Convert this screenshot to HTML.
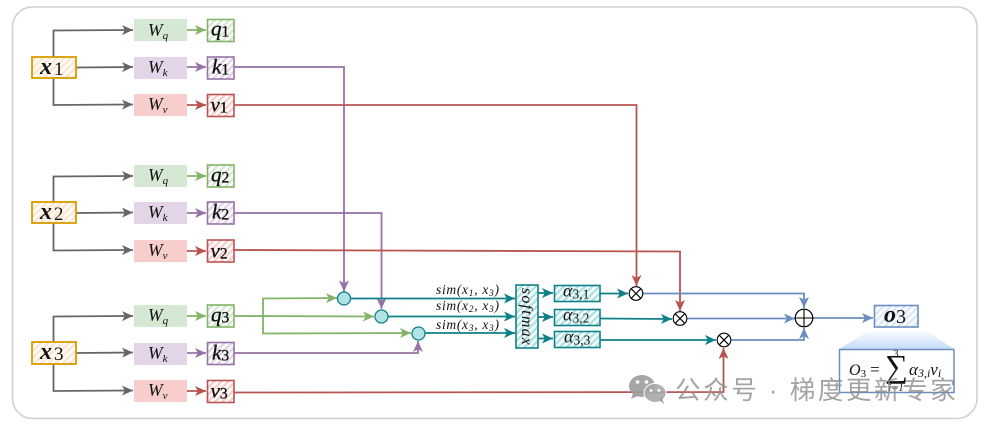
<!DOCTYPE html>
<html>
<head>
<meta charset="utf-8">
<style>
html,body{margin:0;padding:0;background:#fff}
svg{display:block}
text{font-family:"Liberation Serif",serif;font-style:italic;fill:#111}
.b{font-weight:bold}
.c{text-anchor:middle}
.l{fill:none;stroke-width:1.8}
.wm{font-family:"Liberation Sans","Noto Sans CJK SC",sans-serif;font-style:normal;font-size:25.5px;fill:#8c8c8c;fill-opacity:.8;letter-spacing:2.6px}
.n{font-style:normal;font-weight:normal}
.s{stroke:#111;stroke-width:.35}
</style>
</head>
<body>
<svg width="988" height="430" viewBox="0 0 988 430" xmlns="http://www.w3.org/2000/svg">
<defs>
<pattern id="ho" width="5" height="5" patternUnits="userSpaceOnUse" patternTransform="rotate(-45)"><rect width="5" height="5" fill="#fff"/><rect width="5" height="2.6" fill="#ffe6cc"/></pattern>
<pattern id="hg" width="5" height="5" patternUnits="userSpaceOnUse" patternTransform="rotate(-45)"><rect width="5" height="5" fill="#fff"/><rect width="5" height="2.4" fill="#d5e8d4"/></pattern>
<pattern id="hp" width="5" height="5" patternUnits="userSpaceOnUse" patternTransform="rotate(-45)"><rect width="5" height="5" fill="#fff"/><rect width="5" height="2.4" fill="#e1d5e7"/></pattern>
<pattern id="hr" width="5" height="5" patternUnits="userSpaceOnUse" patternTransform="rotate(-45)"><rect width="5" height="5" fill="#fff"/><rect width="5" height="2.4" fill="#f8cecc"/></pattern>
<pattern id="ht" width="5" height="5" patternUnits="userSpaceOnUse" patternTransform="rotate(-45)"><rect width="5" height="5" fill="#fff"/><rect width="5" height="2.6" fill="#b0e3e6"/></pattern>
<pattern id="hb" width="5" height="5" patternUnits="userSpaceOnUse" patternTransform="rotate(-45)"><rect width="5" height="5" fill="#fff"/><rect width="5" height="2.6" fill="#dae8fc"/></pattern>
<linearGradient id="fade" x1="0" y1="0" x2="0" y2="1"><stop offset="0" stop-color="#fff"/><stop offset="1" stop-color="#c4dcf8"/></linearGradient>
<marker id="ag" markerUnits="userSpaceOnUse" markerWidth="13" markerHeight="12" refX="11" refY="5" orient="auto"><path d="M0 0L11 5L0 10L2.800 5Z" fill="#666"/></marker>
<marker id="agr" markerUnits="userSpaceOnUse" markerWidth="13" markerHeight="12" refX="11" refY="5" orient="auto"><path d="M0 0L11 5L0 10L2.800 5Z" fill="#82b366"/></marker>
<marker id="ap" markerUnits="userSpaceOnUse" markerWidth="13" markerHeight="12" refX="11" refY="5" orient="auto"><path d="M0 0L11 5L0 10L2.800 5Z" fill="#9673a6"/></marker>
<marker id="ar" markerUnits="userSpaceOnUse" markerWidth="13" markerHeight="12" refX="11" refY="5" orient="auto"><path d="M0 0L11 5L0 10L2.800 5Z" fill="#b85450"/></marker>
<marker id="at" markerUnits="userSpaceOnUse" markerWidth="13" markerHeight="12" refX="11" refY="5" orient="auto"><path d="M0 0L11 5L0 10L2.800 5Z" fill="#0e8088"/></marker>
<marker id="ab" markerUnits="userSpaceOnUse" markerWidth="13" markerHeight="12" refX="11" refY="5" orient="auto"><path d="M0 0L11 5L0 10L2.800 5Z" fill="#6c8ebf"/></marker>
</defs>

<rect x="12.5" y="7" width="964.5" height="411.5" rx="20" fill="#fff" stroke="#d0d0d0" stroke-width="1.6"/>

<g class="l" stroke="#666">
<path d="M53.5 57V30.5L133 30" marker-end="url(#ag)"/>
<path d="M76 67.5L133 67" marker-end="url(#ag)"/>
<path d="M53.5 78V105L133 104.5" marker-end="url(#ag)"/>
<path d="M53.5 202V176.5L133 176" marker-end="url(#ag)"/>
<path d="M76 213L133 212.5" marker-end="url(#ag)"/>
<path d="M53.5 223V250.5L133 250" marker-end="url(#ag)"/>
<path d="M53.5 342V316.5L133 316" marker-end="url(#ag)"/>
<path d="M76 353L133 352.5" marker-end="url(#ag)"/>
<path d="M53.5 364V391L133 390.5" marker-end="url(#ag)"/>
</g>

<g fill="#d5e8d4"><rect x="134" y="19" width="53" height="22"/><rect x="134" y="165" width="53" height="22"/><rect x="134" y="305" width="53" height="22"/></g>
<g fill="#e1d5e7"><rect x="134" y="57" width="53" height="22"/><rect x="134" y="202" width="53" height="22"/><rect x="134" y="343" width="53" height="22"/></g>
<g fill="#f8cecc"><rect x="134" y="94" width="53" height="22"/><rect x="134" y="240" width="53" height="22"/><rect x="134" y="380" width="53" height="22"/></g>

<g font-size="17.500">
<text x="148" y="36">W<tspan font-size="11" dy="3">q</tspan></text>
<text x="148" y="73">W<tspan font-size="11" dy="3">k</tspan></text>
<text x="148" y="110">W<tspan font-size="11" dy="3">v</tspan></text>
<text x="148" y="181">W<tspan font-size="11" dy="3">q</tspan></text>
<text x="148" y="218">W<tspan font-size="11" dy="3">k</tspan></text>
<text x="148" y="256">W<tspan font-size="11" dy="3">v</tspan></text>
<text x="148" y="321">W<tspan font-size="11" dy="3">q</tspan></text>
<text x="148" y="359">W<tspan font-size="11" dy="3">k</tspan></text>
<text x="148" y="396">W<tspan font-size="11" dy="3">v</tspan></text>
</g>

<g class="l">
<path d="M187 30H206" stroke="#82b366" marker-end="url(#agr)"/>
<path d="M187 67H206" stroke="#9673a6" marker-end="url(#ap)"/>
<path d="M187 105H206" stroke="#b85450" marker-end="url(#ar)"/>
<path d="M187 176H206" stroke="#82b366" marker-end="url(#agr)"/>
<path d="M187 213H206" stroke="#9673a6" marker-end="url(#ap)"/>
<path d="M187 251H206" stroke="#b85450" marker-end="url(#ar)"/>
<path d="M187 316H206" stroke="#82b366" marker-end="url(#agr)"/>
<path d="M187 353H206" stroke="#9673a6" marker-end="url(#ap)"/>
<path d="M187 391H206" stroke="#b85450" marker-end="url(#ar)"/>
</g>

<g class="l" stroke="#9673a6">
<path d="M234 67H344V291.500" marker-end="url(#ap)"/>
<path d="M234 213H381.500V309" marker-end="url(#ap)"/>
<path d="M234 353H418V341" marker-end="url(#ap)"/>
</g>
<g class="l" stroke="#b85450">
<path d="M234 105H636.500V286" marker-end="url(#ar)"/>
<path d="M234 250L680 251.500V311" marker-end="url(#ar)"/>
<path d="M234 392.500L723.500 392V348" marker-end="url(#ar)"/>
</g>
<g class="l" stroke="#82b366">
<path d="M234 316L374 316.500" marker-end="url(#agr)"/>
<path d="M263 316V298.500L337 298" marker-end="url(#agr)"/>
<path d="M263 316V333.500L411 333" marker-end="url(#agr)"/>
</g>
<g class="l" stroke="#0e8088">
<path d="M350 298.500H515" marker-end="url(#at)"/>
<path d="M388 316.500H515" marker-end="url(#at)"/>
<path d="M425 333H515" marker-end="url(#at)"/>
<path d="M538 293H553" marker-end="url(#at)"/>
<path d="M538 317H553" marker-end="url(#at)"/>
<path d="M538 338.500H553" marker-end="url(#at)"/>
<path d="M600 293.500H628" marker-end="url(#at)"/>
<path d="M600 318.500L672 319" marker-end="url(#at)"/>
<path d="M600 340H716" marker-end="url(#at)"/>
</g>
<g class="l" stroke="#6c8ebf">
<path d="M643 293.500H804V308" marker-end="url(#ab)"/>
<path d="M687 318.500H795" marker-end="url(#ab)"/>
<path d="M731 340H804V328" marker-end="url(#ab)"/>
<path d="M813 318H873" marker-end="url(#ab)"/>
</g>

<g fill="url(#ho)" stroke="#d79b00" stroke-width="1.800">
<rect x="32" y="57" width="44" height="21"/>
<rect x="32" y="202" width="44" height="21"/>
<rect x="32" y="342" width="44" height="22"/>
</g>
<g font-size="24" class="b">
<text x="40" y="74">x<tspan class="n" font-size="19" dx="2" dy="1">1</tspan></text>
<text x="40" y="219">x<tspan class="n" font-size="19" dx="2" dy="1">2</tspan></text>
<text x="40" y="359">x<tspan class="n" font-size="19" dx="2" dy="1">3</tspan></text>
</g>

<g stroke-width="1.600">
<rect x="207.500" y="19.500" width="26.500" height="22" fill="url(#hg)" stroke="#82b366"/>
<rect x="207.500" y="57" width="26.500" height="22" fill="url(#hp)" stroke="#9673a6"/>
<rect x="207.500" y="94.500" width="26.500" height="22" fill="url(#hr)" stroke="#b85450"/>
<rect x="207.500" y="165" width="26.500" height="22" fill="url(#hg)" stroke="#82b366"/>
<rect x="207.500" y="202" width="26.500" height="22" fill="url(#hp)" stroke="#9673a6"/>
<rect x="207.500" y="240" width="26.500" height="22" fill="url(#hr)" stroke="#b85450"/>
<rect x="207.500" y="305" width="26.500" height="22" fill="url(#hg)" stroke="#82b366"/>
<rect x="207.500" y="342.500" width="26.500" height="22" fill="url(#hp)" stroke="#9673a6"/>
<rect x="207.500" y="380.500" width="26.500" height="22" fill="url(#hr)" stroke="#b85450"/>
</g>
<g font-size="21" class="s">
<text x="211" y="35.500" class="s">q<tspan class="n" font-size="15.500" dy="1">1</tspan></text>
<text x="212" y="73.500" class="s">k<tspan class="n" font-size="15.500" dy="1">1</tspan></text>
<text x="210.500" y="111.500" class="s">v<tspan class="n" font-size="15.500" dy="1">1</tspan></text>
<text x="211" y="181.500" class="s">q<tspan class="n" font-size="15.500" dy="1">2</tspan></text>
<text x="212" y="218.500" class="s">k<tspan class="n" font-size="15.500" dy="1">2</tspan></text>
<text x="210.500" y="257.500" class="s">v<tspan class="n" font-size="15.500" dy="1">2</tspan></text>
<text x="211" y="321.500" class="s">q<tspan class="n" font-size="15.500" dy="1">3</tspan></text>
<text x="212" y="359.500" class="s">k<tspan class="n" font-size="15.500" dy="1">3</tspan></text>
<text x="210.500" y="397.500" class="s">v<tspan class="n" font-size="15.500" dy="1">3</tspan></text>
</g>

<g fill="#b0e3e6" stroke="#0e8088" stroke-width="1.300">
<circle cx="344" cy="298.500" r="6.500"/>
<circle cx="381.500" cy="316.500" r="6.500"/>
<circle cx="418.500" cy="333.500" r="6.500"/>
</g>

<g font-size="13.500" letter-spacing=".7">
<text x="436" y="294">sim(x<tspan font-size="9.500" dy="2">1</tspan><tspan dy="-2">, x</tspan><tspan font-size="9.500" dy="2">3</tspan><tspan dy="-2">)</tspan></text>
<text x="436" y="310">sim(x<tspan font-size="9.500" dy="2">2</tspan><tspan dy="-2">, x</tspan><tspan font-size="9.500" dy="2">3</tspan><tspan dy="-2">)</tspan></text>
<text x="436" y="329">sim(x<tspan font-size="9.500" dy="2">3</tspan><tspan dy="-2">, x</tspan><tspan font-size="9.500" dy="2">3</tspan><tspan dy="-2">)</tspan></text>
</g>

<rect x="516" y="285" width="22" height="63" fill="url(#ht)" stroke="#0e8088" stroke-width="1.600"/>
<text transform="translate(522,317) rotate(90)" class="c" font-size="16" letter-spacing="1.200">softmax</text>

<g fill="url(#ht)" stroke="#0e8088" stroke-width="1.600">
<rect x="554.500" y="285.500" width="45.500" height="16"/>
<rect x="554.500" y="309.500" width="45.500" height="16"/>
<rect x="554.500" y="331.500" width="45.500" height="16"/>
</g>
<g font-size="18">
<text x="563" y="296.500">α<tspan class="n" font-size="13.500" dy="2">3,1</tspan></text>
<text x="563" y="320.500">α<tspan class="n" font-size="13.500" dy="2">3,2</tspan></text>
<text x="564" y="342.500">α<tspan class="n" font-size="13.500" dy="2">3,3</tspan></text>
</g>

<g fill="#fff" stroke="#000" stroke-width="1.100">
<circle cx="636" cy="293.500" r="6.800"/><path d="M631.200 288.700L640.800 298.300M640.800 288.700L631.200 298.300"/>
<circle cx="680" cy="318.500" r="6.800"/><path d="M675.200 313.700L684.800 323.300M684.800 313.700L675.200 323.300"/>
<circle cx="724" cy="340" r="6.800"/><path d="M719.200 335.200L728.800 344.800M728.800 335.200L719.200 344.800"/>
<circle cx="804" cy="318" r="8.800" stroke-width="1.200"/><path d="M795.200 318H812.800M804 309.200V326.800"/>
</g>

<rect x="874.500" y="305.500" width="43.500" height="21.500" fill="url(#hb)" stroke="#6c8ebf" stroke-width="1.600"/>
<text x="884" y="322" font-size="24" class="b">o<tspan class="n" font-size="20" dy="1">3</tspan></text>

<path d="M870 330H925L954 349H839Z" fill="url(#fade)"/>
<rect x="839.500" y="349.500" width="114.500" height="43" fill="#fff" stroke="#6c8ebf" stroke-width="1.500"/>
<text x="849" y="375" font-size="16">O<tspan class="n" font-size="11" dy="2">3</tspan><tspan class="n" font-size="17" dy="-2" dx="4">=</tspan></text>
<text x="885" y="377" font-size="32" class="n">∑</text>
<text x="896" y="357" font-size="10.500" class="c n">3</text>
<text x="896" y="391" font-size="10.500" class="c">i=1</text>
<text x="909" y="375" font-size="17">α<tspan font-size="12" dy="2">3,i</tspan><tspan dy="-2">v</tspan><tspan font-size="12" dy="2">i</tspan></text>

<g fill="#9c9c9c" fill-opacity=".9">
<ellipse cx="642" cy="386" rx="13" ry="11"/>
<path d="M633 393L631 399L640 395Z"/>
<ellipse cx="655" cy="393" rx="11" ry="9.500" fill="#a8a8a8" stroke="#fff" stroke-width="1"/>
<path d="M659 400L664 404L662 397Z"/>
</g>
<g fill="#fff"><circle cx="637.500" cy="382" r="1.800"/><circle cx="646.500" cy="382" r="1.800"/><circle cx="651" cy="390.500" r="1.400"/><circle cx="659" cy="390.500" r="1.400"/></g>
<text x="675" y="399" class="wm">公众号 · 梯度更新专家</text>
</svg>
</body>
</html>
